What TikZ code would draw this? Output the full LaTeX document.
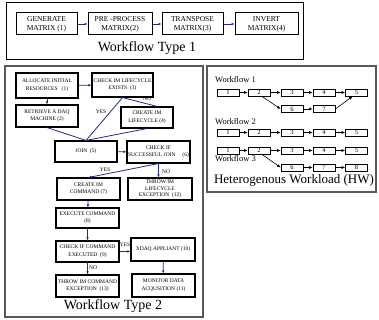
\documentclass[tikz,border=0pt]{standalone}
\usepackage{fontspec}
\setmainfont{Liberation Serif}
\usepackage{xcolor}
\usetikzlibrary{arrows.meta}
\definecolor{mnavy}{HTML}{1F2A8C}
\tikzstyle{l2}=[line width=0.8]
\tikzstyle{frame}=[draw=black!65, line width=1.4]
\tikzstyle{tbox}=[rectangle, draw=black, line width=1, inner sep=0pt, align=center, font=\fontsize{7.5}{9}\selectfont, minimum height=22]
\tikzstyle{fbox}=[rectangle, draw=black, line width=1.1, inner sep=0pt, align=center, font=\fontsize{5.5}{7.5}\selectfont]
\tikzstyle{wbox}=[rectangle, draw=black, line width=0.8, inner sep=0pt, font=\fontsize{6.5}{7}\selectfont, minimum width=22, minimum height=7]
\tikzstyle{flow}=[l2, draw=mnavy, -{Latex[length=3pt, width=2.6pt]}]
\tikzstyle{wire}=[l2, draw=mnavy]
\tikzstyle{warr}=[line width=0.6, -{Latex[length=3.5pt, width=3pt]}]
\tikzstyle{yn}=[font=\fontsize{5.5}{6}\selectfont, inner sep=0pt]
\tikzstyle{title}=[font=\fontsize{14}{16}\selectfont, inner sep=0pt]

\begin{document}
\begin{tikzpicture}[x=1pt, y=-1pt]
    \useasboundingbox (0,0) rectangle (379,320);

    % workflow type 1
    \draw[draw=black, line width=1] (6,3) rectangle (303,60);
    \node[tbox, minimum width=61] at (46.5,24) (g1) {GENERATE\\MATRIX (1)};
    \node[tbox, minimum width=64] at (120,24) (g2) {PRE -PROCESS\\MATRIX(2)};
    \node[tbox, minimum width=61] at (192.5,24) (g3) {TRANSPOSE\\MATRIX(3)};
    \node[tbox, minimum width=63] at (266.5,24) (g4) {INVERT\\MATRIX(4)};
    \node[title] at (147,48) (t1) {Workflow Type 1};
    \draw[flow] (g1) -- (g2);
    \draw[flow] (g2) -- (g3);
    \draw[flow] (g3) -- (g4);

    % workflow type 2
    \draw[frame] (5,66) rectangle (203,317);
    \node[fbox, minimum width=62, minimum height=25] at (47,85.5) (a1) {ALLOCATE INITIAL\\RESOURCES \ \ (1)};
    \node[fbox, minimum width=61, minimum height=24] at (122.5,85) (a3) {CHECK IM LIFECYCLE\\EXISTS \ (3)};
    \node[fbox, minimum width=62, minimum height=22] at (47,116) (a2) {RETRIEVE A DAQ\\MACHINE (2)};
    \node[fbox, minimum width=52, minimum height=21] at (147,117.5) (a4) {CREATE IM\\LIFECYCLE (4)};
    \node[fbox, minimum width=62, minimum height=21] at (86,151.5) (a5) {JOIN \ (5)};
    \node[fbox, minimum width=63, minimum height=22] at (158.5,152) (a6) {CHECK IF\\SUCCESSFUL JOIN \ \ \ \ (6)};
    \node[fbox, minimum width=63, minimum height=22] at (88.5,189) (a7) {CREATE IM\\COMMAND (7)};
    \node[fbox, minimum width=64, minimum height=22, font=\fontsize{5.5}{6.5}\selectfont] at (160,189) (a12) {THROW IM\\LIFECYCLE\\EXCEPTION \ (12)};
    \node[fbox, minimum width=63, minimum height=20] at (87.5,218) (a8) {EXECUTE COMMAND\\(8)};
    \node[fbox, minimum width=63, minimum height=21] at (87.5,251.5) (a9) {CHECK IF COMMAND\\EXECUTED \ (9)};
    \node[fbox, minimum width=63, minimum height=22] at (87.5,286) (a13) {THROW IM COMMAND\\EXCEPTION \ (13)};
    \node[fbox, minimum width=64, minimum height=23] at (163,249.5) (a10) {XDAQ APPLIANT (10)};
    \node[fbox, minimum width=63, minimum height=23] at (163.5,285.5) (a11) {MONITOR DATA\\ACQUSITION (11)};
    \node[title] at (113,306) (t2) {Workflow Type 2};

    \draw[flow] (a1) -- (a3);
    \draw[flow] (a1) -- (a2);
    \draw[wire] (a2.south) -- (a5.north);
    \draw[wire] (a4.south) -- (a5.north);
    \draw[wire] (a3.south) -- (a5.north);
    \draw[wire] (a3.south) -- ([xshift=10pt]a4.north);
    \node[yn] at (101,112) (y3) {YES};
    \node[yn] at (147,99) (n3) {NO};
    \draw[flow] (a5) -- (a6);
    \draw[flow] (a6.south) -- (a7.north);
    \draw[flow] (a6.south) -- (a6.south |- a12.north);
    \node[yn] at (105,170) (y6) {YES};
    \node[yn] at (166,172) (n6) {NO};
    \draw[flow] (a7) -- (a8);
    \draw[flow] (a8) -- (a9);
    \draw[flow] (a9) -- (a13);
    \node[yn] at (93,268) (n9) {NO};
    \draw[flow] (a9.east) -- (a9.east -| a10.west);
    \node[yn] at (125,245) (y9) {YES};
    \draw[flow] (a10) -- (a11);

    % heterogenous workload
    \draw[frame] (207,66) rectangle (376,192);
    \node[anchor=west, font=\fontsize{8.5}{9}\selectfont, inner sep=0pt] at (215,80) (w1) {Workflow 1};
    \node[anchor=west, font=\fontsize{8.5}{9}\selectfont, inner sep=0pt] at (215,122) (w2) {Workflow 2};
    \node[anchor=west, font=\fontsize{8.5}{9}\selectfont, inner sep=0pt] at (215,158.5) (w3) {Workflow 3};

    \node[wbox] at (228,92.5) (p1) {1};
    \node[wbox] at (259,92.5) (p2) {2};
    \node[wbox] at (292,92.5) (p3) {3};
    \node[wbox] at (324,92.5) (p4) {4};
    \node[wbox] at (356.5,92.5) (p5) {5};
    \node[wbox] at (292,109) (p6) {6};
    \node[wbox] at (324,109) (p7) {7};
    \draw[warr] (p1) -- (p2);
    \draw[warr] (p2) -- (p3);
    \draw[warr] (p3) -- (p4);
    \draw[warr] (p4) -- (p5);
    \draw[warr] ([xshift=3pt]p2.south) -- (p6.west);
    \draw[warr] (p6) -- (p7);
    \draw[warr] (p7.east) -- ([xshift=-4pt]p5.south);

    \node[wbox] at (228,132.5) (q1) {1};
    \node[wbox] at (259,132.5) (q2) {2};
    \node[wbox] at (292,132.5) (q3) {3};
    \node[wbox] at (324,132.5) (q4) {4};
    \node[wbox] at (356.5,132.5) (q5) {5};
    \draw[warr] (q1) -- (q2);
    \draw[warr] (q2) -- (q3);
    \draw[warr] (q3) -- (q4);
    \draw[warr] (q4) -- (q5);

    \node[wbox] at (228,150.5) (r1) {1};
    \node[wbox] at (259,150.5) (r2) {2};
    \node[wbox] at (292,150.5) (r3) {3};
    \node[wbox] at (324,150.5) (r4) {4};
    \node[wbox] at (356.5,150.5) (r5) {5};
    \node[wbox] at (292,167.5) (r6) {6};
    \node[wbox] at (324,167.5) (r7) {7};
    \node[wbox] at (356.5,167.5) (r8) {8};
    \draw[warr] (r1) -- (r2);
    \draw[warr] (r2) -- (r3);
    \draw[warr] (r3) -- (r4);
    \draw[warr] (r4) -- (r5);
    \draw[warr] ([xshift=3pt]r2.south) -- (r6.west);
    \draw[warr] (r6) -- (r7);
    \draw[warr] (r7) -- (r8);
    \node[title, font=\fontsize{13}{15}\selectfont] at (294,180) (t3) {Heterogenous Workload (HW)};
\end{tikzpicture}
\end{document}
